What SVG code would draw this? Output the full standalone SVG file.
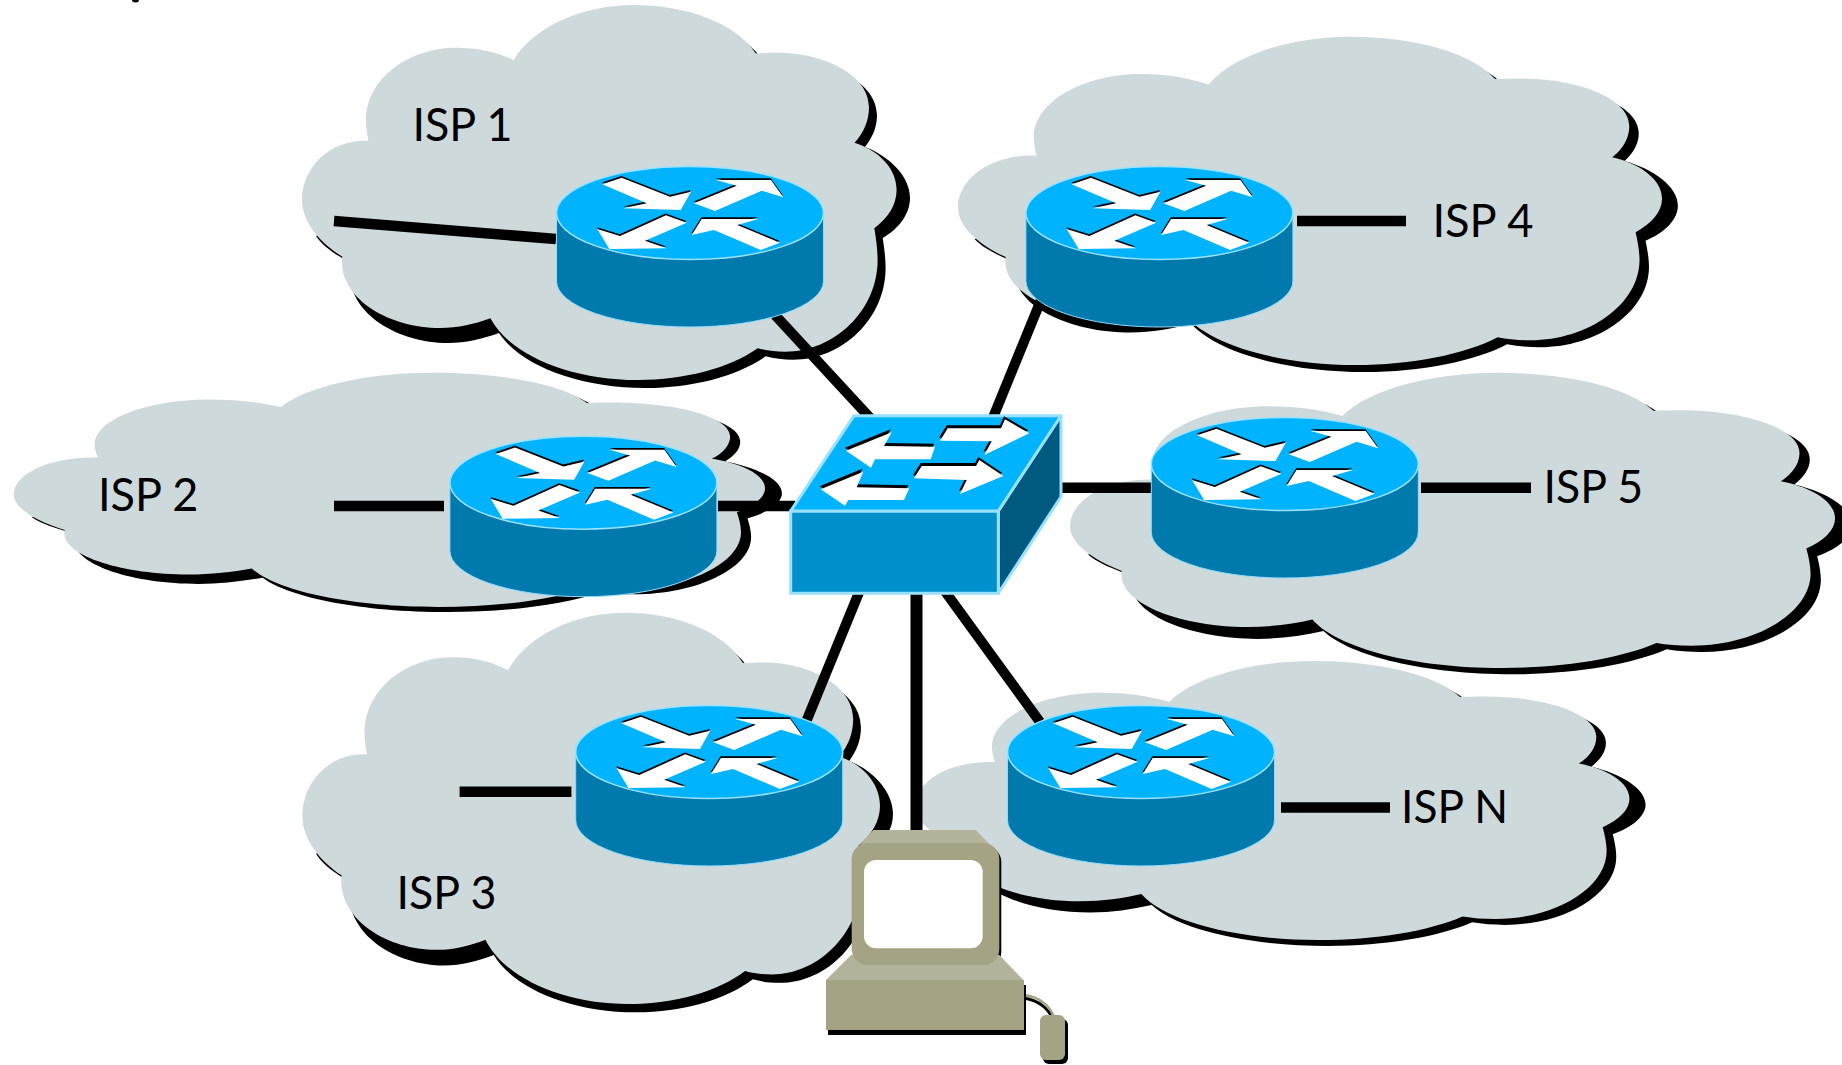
<svg xmlns="http://www.w3.org/2000/svg" xmlns:xlink="http://www.w3.org/1999/xlink" width="1842" height="1065" viewBox="0 0 1842 1065">
<style>
.cloud{fill:#ced9db}
.cloudshadow{fill:#000}
.lbl{font-family:"Lato","Liberation Sans",sans-serif;font-size:46px;fill:#000}
.wire{stroke:#000;fill:none}
.w10{stroke-width:10.5}
.w9{stroke-width:10}
.w12{stroke-width:12}
.arrow{fill:#fff}
.arrowsh{fill:#000}
.pc{fill:#a4a384}
.pcl{fill:#b3b39b}
</style>
<defs>
<path id="cloudshape" d="M513.6,60C535,25 585,5 633.5,5C685,5 735,22 755.6,53.3C762,53 770,52.7 776.6,52.7C825,52.7 869,75 869,107C869,120 864,133 854.5,142.7C878,150 896.6,168 896.6,190C896.6,205 888,218 874.3,228.3C876,238 877.6,250 877.6,260C877.6,310 835,351.7 785,351.7C775,351.7 766,350.5 757.7,348.3C730,368 685,380 637.7,380C570,380 510,355 490.4,318.3C475,324 458,328 440,328C390,328 342,300 342,262C342,260 342,258 342.3,256.7C320,243 302,222 302,200C302,167 330,140.7 364,140.7L368.4,140.7C367,134 366,127 366,120C366,80 407,47.7 456.8,47.7C478,47.7 497,52 513.6,60Z"/>
<path id="shadowshape" d="M521.6,68C543,33 593,13 641.5,13C693,13 743,30 763.6,61.3C770,61 778,60.7 784.6,60.7C833,60.7 877,83 877,115C877,128 872,138 865,147C889,156 910,176 910,198C910,213 900,228 882.7,238C884,246 885.6,258 885.6,268C885.6,318 843,359.7 793,359.7C783,359.7 774,358.5 765.7,356.3C738,376 693,388 645.7,388C578,388 520,365 499,333C482,339 466,343 448,343C398,343 350,314 350,274C350,270 346,262 342,258C332,252 322,245 316,236L400,200L420,90L513.6,60Z"/>
<g id="routerglyph">
<path d="M-133.5,0V68A133.5,46 0 0 0 133.5,68V0Z" fill="#0079ac" stroke="#8fdcff" stroke-width="1"/>
<ellipse cx="0" cy="0" rx="133.5" ry="46.5" fill="#00b3ff" stroke="#9be2ff" stroke-width="1.5"/>
<g transform="translate(-0.3,-1.8)" class="arrowsh">
<polygon points="-87.7,-28.7 -68.3,-35.3 -20,-16.3 1,-21.3 -9.3,-3 -66.7,-4.7 -43.3,-9.7"/>
<polygon points="4,-9.7 46.7,-27.3 26,-33 81,-33 93.3,-15.7 71.7,-22.3 25,-2"/>
<polygon points="-92.7,16 -70,23 -24,2.3 -3.3,9.7 -45,27.7 -23.3,35.3 -80.7,36"/>
<polygon points="1.7,22 11.7,6 68.3,6 47.3,12 90,29.7 70.7,37 24,17"/>
</g>
<g class="arrow">
<polygon points="-87.7,-28.7 -68.3,-35.3 -20,-16.3 1,-21.3 -9.3,-3 -66.7,-4.7 -43.3,-9.7"/>
<polygon points="4,-9.7 46.7,-27.3 26,-33 81,-33 93.3,-15.7 71.7,-22.3 25,-2"/>
<polygon points="-92.7,16 -70,23 -24,2.3 -3.3,9.7 -45,27.7 -23.3,35.3 -80.7,36"/>
<polygon points="1.7,22 11.7,6 68.3,6 47.3,12 90,29.7 70.7,37 24,17"/>
</g>
</g>
</defs>
<rect width="1842" height="1065" fill="#fff"/>
<ellipse id="top-mark" cx="135.5" cy="0" rx="3.5" ry="2.5" fill="#000"/>
<g id="cloud-isp1">
<use href="#shadowshape" class="cloudshadow" transform="translate(302 5) scale(1 1) translate(-302 -5)"/>
<use href="#cloudshape" class="cloud" transform="translate(302 5) scale(1 1) translate(-302 -5)"/>
<text class="lbl" x="412.5" y="140.5" textLength="100" lengthAdjust="spacingAndGlyphs">ISP 1</text>
</g>
<g id="cloud-isp4">
<use href="#shadowshape" class="cloudshadow" transform="translate(958 36.7) scale(1.184 .8755) translate(-302 -5)"/>
<use href="#cloudshape" class="cloud" transform="translate(958 36.7) scale(1.184 .8755) translate(-302 -5)"/>
<text class="lbl" x="1432.4" y="236.5" textLength="101" lengthAdjust="spacingAndGlyphs">ISP 4</text>
</g>
<g id="cloud-isp2">
<use href="#shadowshape" class="cloudshadow" transform="translate(13.8 372.7) scale(1.2634 .6248) translate(-302 -5)"/>
<use href="#cloudshape" class="cloud" transform="translate(13.8 372.7) scale(1.2634 .6248) translate(-302 -5)"/>
<text class="lbl" x="98" y="511.2" textLength="100.5" lengthAdjust="spacingAndGlyphs">ISP 2</text>
</g>
<g id="cloud-isp5">
<use href="#shadowshape" class="cloudshadow" transform="translate(1070 372.7) scale(1.2866 .7875) translate(-302 -5)"/>
<use href="#cloudshape" class="cloud" transform="translate(1070 372.7) scale(1.2866 .7875) translate(-302 -5)"/>
<text class="lbl" x="1543.5" y="503.2" textLength="99.5" lengthAdjust="spacingAndGlyphs">ISP 5</text>
</g>
<g id="cloud-isp3">
<use href="#shadowshape" class="cloudshadow" transform="translate(302.4 612.7) scale(.9714 1.0435) translate(-302 -5)"/>
<use href="#cloudshape" class="cloud" transform="translate(302.4 612.7) scale(.9714 1.0435) translate(-302 -5)"/>
<text class="lbl" x="396.6" y="908.8" textLength="99.7" lengthAdjust="spacingAndGlyphs">ISP 3</text>
</g>
<g id="cloud-ispn">
<use href="#shadowshape" class="cloudshadow" transform="translate(915 661) scale(1.2016 .744) translate(-302 -5)"/>
<use href="#cloudshape" class="cloud" transform="translate(915 661) scale(1.2016 .744) translate(-302 -5)"/>
<text class="lbl" x="1401" y="823.2" textLength="107" lengthAdjust="spacingAndGlyphs">ISP N</text>
</g>
<g id="connectors">
<line class="wire w10" x1="334" y1="221" x2="556" y2="239"/>
<line class="wire w10" x1="1297" y1="221" x2="1406" y2="221"/>
<line class="wire w10" x1="334" y1="506" x2="444" y2="506"/>
<line class="wire w10" x1="718" y1="506" x2="795" y2="506"/>
<line class="wire w10" x1="1421" y1="487.7" x2="1531" y2="487.7"/>
<line class="wire w10" x1="1058" y1="487.7" x2="1152" y2="487.7"/>
<line class="wire w10" x1="459.6" y1="791.7" x2="571.4" y2="791.7"/>
<line class="wire w10" x1="1281" y1="807.5" x2="1390" y2="807.5"/>
<line class="wire w9" x1="775" y1="315" x2="872" y2="420"/>
<line class="wire w9" x1="1041" y1="300" x2="992" y2="420"/>
<line class="wire w9" x1="806" y1="722" x2="860" y2="590"/>
<line class="wire w9" x1="1040" y1="722" x2="944" y2="590"/>
<line class="wire w12" x1="916.5" y1="590" x2="916.5" y2="835"/>
</g>
<g id="router-isp1"><use href="#routerglyph" transform="translate(690 213)"/></g>
<g id="router-isp4"><use href="#routerglyph" transform="translate(1159.4 213)"/></g>
<g id="router-isp2"><use href="#routerglyph" transform="translate(583.4 482.7)"/></g>
<g id="router-isp5"><use href="#routerglyph" transform="translate(1284.8 464)"/></g>
<g id="router-isp3"><use href="#routerglyph" transform="translate(709.2 752)"/></g>
<g id="router-ispn"><use href="#routerglyph" transform="translate(1141 752)"/></g>
<g id="switch">
<polygon points="998.3,511 1061,415.7 1061,496.7 998.3,593.3" fill="#005a80" stroke="#99e1ff" stroke-width="3" stroke-linejoin="round"/>
<rect x="790.7" y="511" width="207.6" height="82.3" fill="#0090cc" stroke="#99e1ff" stroke-width="3"/>
<polygon points="790.7,511 854,415.7 1061,415.7 998.3,511" fill="#00b3ff" stroke="#99e1ff" stroke-width="3" stroke-linejoin="round"/>
<g class="arrowsh" transform="translate(-1 -3)">
<polygon points="846,450.7 891.7,432.3 884,446 935,446.7 930.7,459.3 875,459.3 871,467.7"/>
<polygon points="940,440.7 947.7,428.3 1001,428.3 1005,419.3 1029.3,433.3 984.3,455 991.7,441.3"/>
<polygon points="820.7,489.3 863.3,471.7 856.7,487.3 909.3,488.3 904,500 848.3,500 845,505.7"/>
<polygon points="914,478.3 921.7,466 976,466 979.3,460 1003.3,476 960,494 966.7,480"/>
</g>
<g class="arrow">
<polygon points="846,450.7 891.7,432.3 884,446 935,446.7 930.7,459.3 875,459.3 871,467.7"/>
<polygon points="940,440.7 947.7,428.3 1001,428.3 1005,419.3 1029.3,433.3 984.3,455 991.7,441.3"/>
<polygon points="820.7,489.3 863.3,471.7 856.7,487.3 909.3,488.3 904,500 848.3,500 845,505.7"/>
<polygon points="914,478.3 921.7,466 976,466 979.3,460 1003.3,476 960,494 966.7,480"/>
</g>
</g>
<g id="computer">
<rect x="853.7" y="846" width="147.6" height="122" rx="16" fill="#000"/>
<polygon class="pcl" points="873.3,830 975.7,830 992,847 858,847"/>
<path d="M1024,995C1040,997 1050,1006 1054,1017" fill="none" stroke="#000" stroke-width="3" transform="translate(-1 3)"/>
<path d="M1024,995C1040,997 1050,1006 1054,1017" fill="none" stroke="#a4a384" stroke-width="2.5"/>
<rect x="828" y="985" width="198" height="50" fill="#000"/>
<polygon class="pcl" points="851,955 999.3,955 1023.3,980 826,980"/>
<rect class="pc" x="851.7" y="843" width="147.6" height="122" rx="16"/>
<rect x="864" y="860" width="118.7" height="88.3" rx="12" fill="#fff"/>
<rect class="pc" x="826" y="980" width="198" height="50"/>
<rect x="1043" y="1019" width="25" height="45" rx="6" fill="#000"/>
<rect class="pc" x="1040" y="1015" width="25" height="45" rx="6"/>
</g>
</svg>
